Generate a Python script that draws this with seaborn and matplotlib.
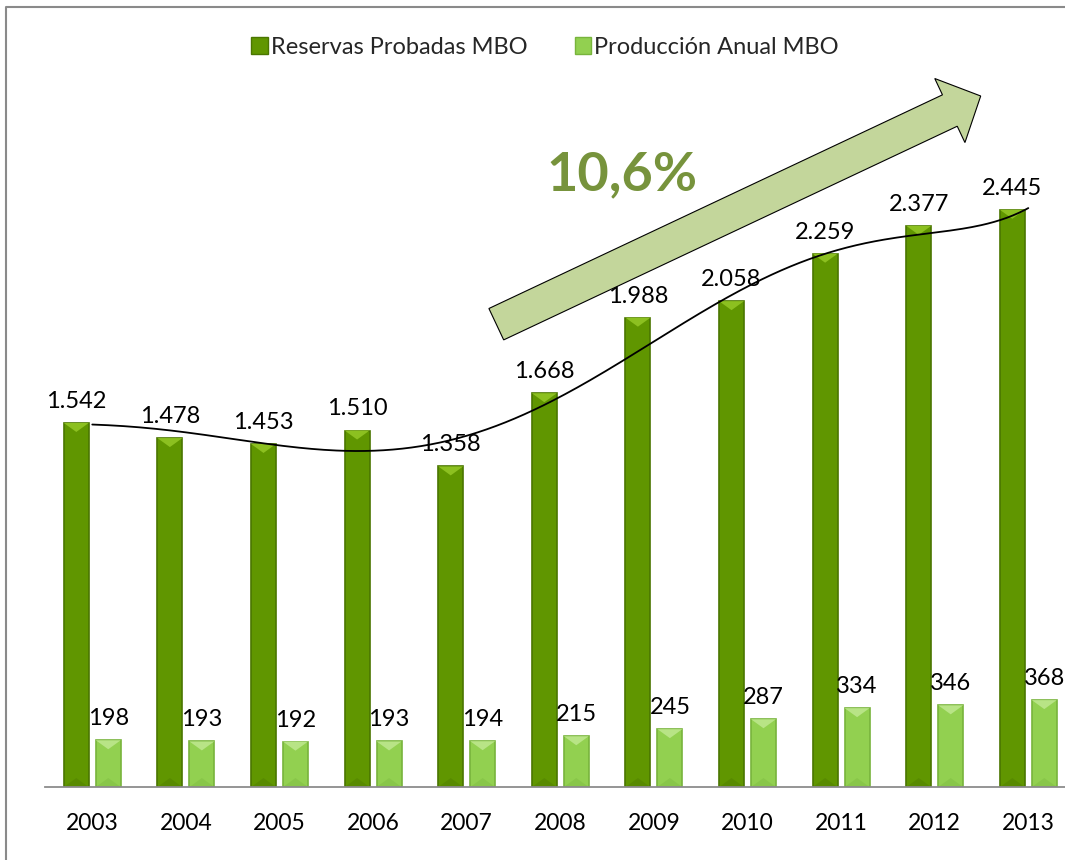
import numpy as np
import pandas as pd
import matplotlib.pyplot as plt
import seaborn as sns
from matplotlib.patches import FancyArrow, Polygon, Patch
from matplotlib.lines import Line2D

# Data
years = ['2003', '2004', '2005', '2006', '2007', '2008', '2009', '2010', '2011', '2012', '2013']
reservas = [1542, 1478, 1453, 1510, 1358, 1668, 1988, 2058, 2259, 2377, 2445]
produccion = [198, 193, 192, 193, 194, 215, 245, 287, 334, 346, 368]
series_names = ['Reservas Probadas MBO', 'Producción Anual MBO']
bar_colors = ['#609600', '#92d050']
edge_colors = ['#4a7600', '#78b43c']
bevel_colors = ['#8cc020', '#b8e486']
tasa = '10,6%'

sns.set_theme(style='white')
plt.rcParams['font.family'] = ['Lato', 'DejaVu Sans']

df = pd.DataFrame({
    'year': years * 2,
    'serie': [series_names[0]] * len(years) + [series_names[1]] * len(years),
    'valor': reservas + produccion,
})

fig = plt.figure(figsize=(10.65, 8.6), dpi=100)
ax = fig.add_axes([45 / 1065, 73 / 860, 1020 / 1065, 780 / 860])

sns.barplot(data=df, x='year', y='valor', hue='serie', hue_order=series_names,
            palette=bar_colors, saturation=1, width=0.683, gap=0.22,
            legend=False, ax=ax)

ax.set_xlim(-0.505, 10.392)
ax.set_ylim(0, 3304)
units_per_px = 3304 / 780

# bar shading: darker edge, lighter bevel on top
for cont, ec, bc in zip(ax.containers, edge_colors, bevel_colors):
    for bar in cont:
        bar.set_edgecolor(ec)
        bar.set_linewidth(1.2)
        x0, w, h = bar.get_x(), bar.get_width(), bar.get_height()
        ax.add_patch(Polygon([(x0, h), (x0 + w, h), (x0 + w / 2, h - 9 * units_per_px)],
                             closed=True, facecolor=bc, edgecolor='none'))
        ax.add_patch(Polygon([(x0, 0), (x0 + w, 0), (x0 + w / 2, 9 * units_per_px)],
                             closed=True, facecolor=ec, edgecolor='none', alpha=0.35))

# value labels
for cont, vals in zip(ax.containers, [reservas, produccion]):
    ax.bar_label(cont, labels=[f'{v:,}'.replace(',', '.') for v in vals],
                 padding=8, fontsize=17, color='black')

# polynomial trend line over reserves
xs = np.arange(len(years))
coef = np.polyfit(xs, reservas, 6)
xd = np.linspace(0, len(years) - 1, 300)
ax.plot(xd, np.polyval(coef, xd), color='black', lw=1.3)

sns.despine(ax=ax, left=True)
ax.spines['bottom'].set_color('#8c8c8c')
ax.spines['bottom'].set_linewidth(1.3)
ax.set_yticks([])
ax.set_xlabel('')
ax.set_ylabel('')
ax.tick_params(axis='x', length=0, pad=19, labelsize=16.5, labelcolor='black')

# legend
handles = [Patch(facecolor=c, edgecolor=e) for c, e in zip(bar_colors, edge_colors)]
fig.legend(handles, series_names, loc='center', bbox_to_anchor=(545 / 1065, 1 - 47 / 860),
           ncol=2, frameon=False, fontsize=17, handlelength=0.7, handleheight=0.7,
           handletextpad=0.12, columnspacing=2.0)

# growth arrow and rate
arrow = FancyArrow(4.963, 5.358, 4.844, 2.282, width=0.347, head_width=0.708,
                   head_length=0.341, length_includes_head=True,
                   facecolor='#c3d69b', edgecolor='black', linewidth=0.8,
                   transform=fig.dpi_scale_trans)
fig.add_artist(arrow)
fig.text(622 / 1065, 1 - 175 / 860, tasa, ha='center', va='center',
         fontsize=39, fontweight='bold', color='#77933c')

# outer chart frame
fig.add_artist(Line2D([6 / 1065, 6 / 1065, 1], [0, 1 - 7 / 860, 1 - 7 / 860],
                      transform=fig.transFigure, color='#8a8a8a', lw=1.5))

fig.savefig('out.png', dpi=100)
